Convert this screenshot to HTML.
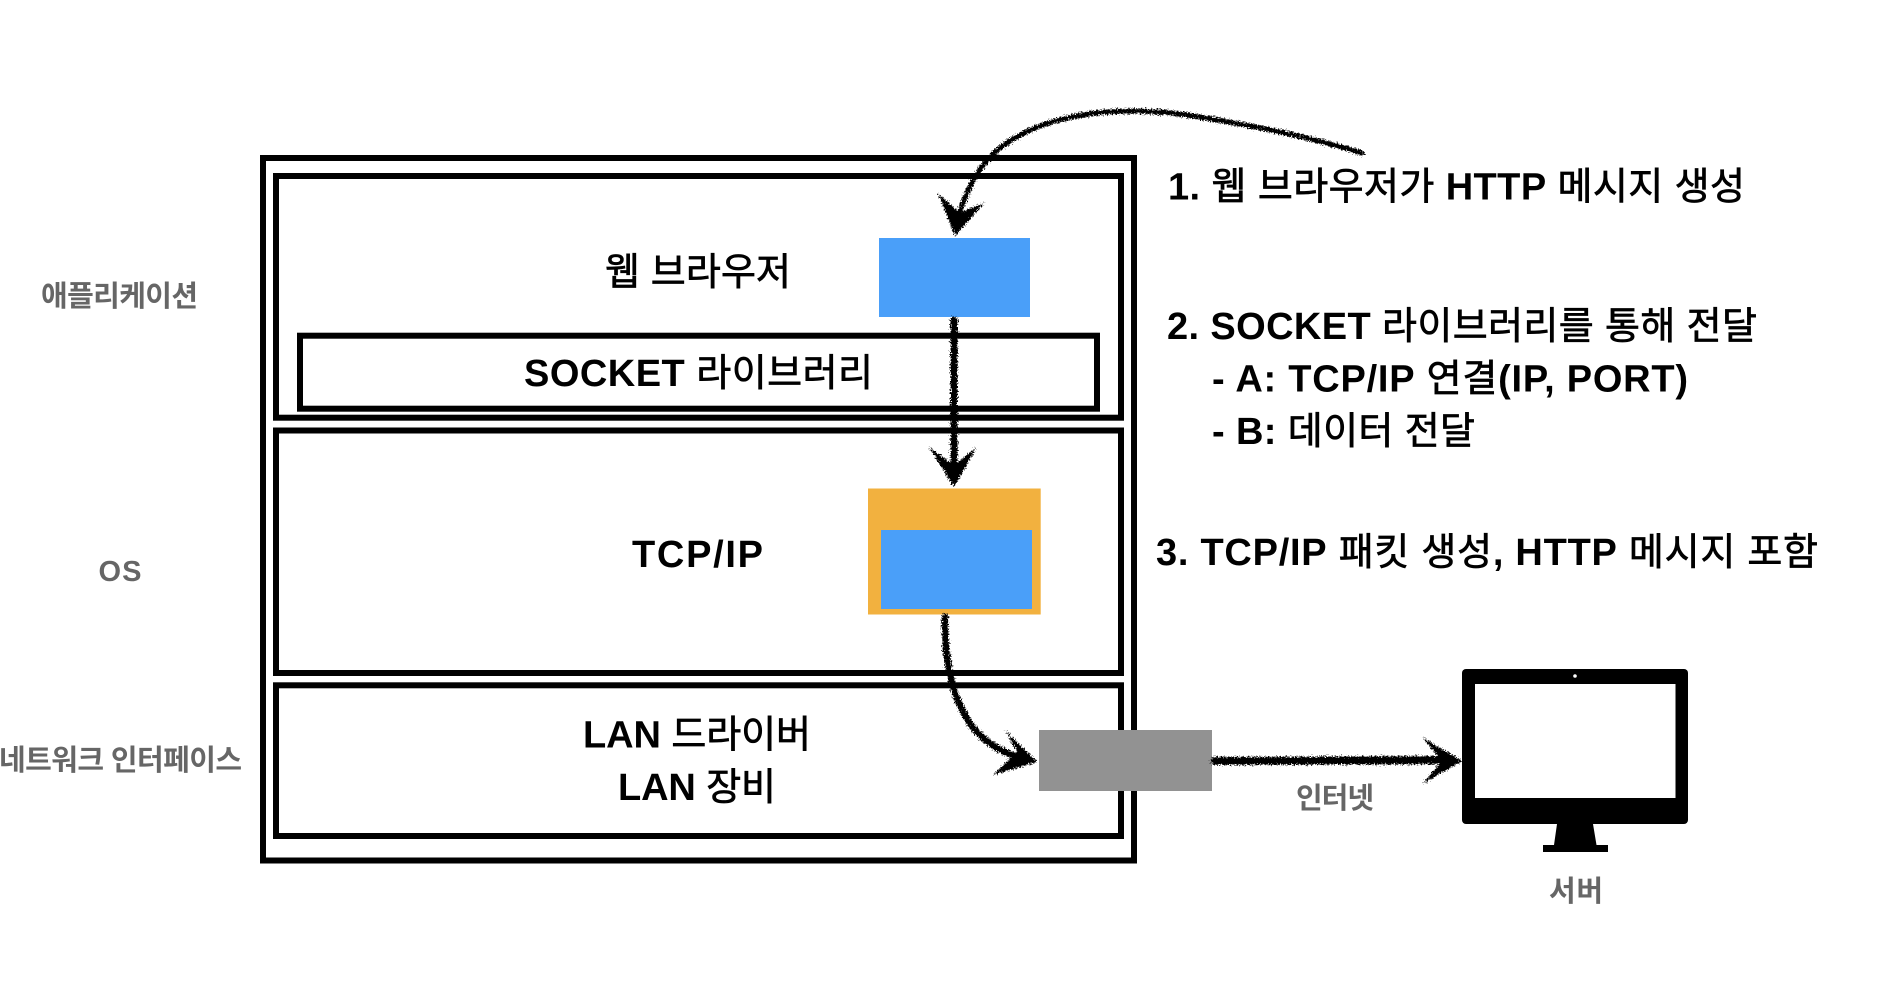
<!DOCTYPE html>
<html lang="ko"><head><meta charset="utf-8"><title>Diagram</title>
<style>
html,body{margin:0;padding:0;background:#fff}
svg{display:block}
text{font-family:"Liberation Sans","Noto Sans CJK KR",sans-serif}
.m{font-size:38px;font-weight:400;fill:#000;stroke:#000;stroke-width:.7px}
.g{font-size:29px;font-weight:700;fill:#666}
.l{font-weight:700;stroke-width:0}
</style></head><body>
<svg width="1886" height="998" viewBox="0 0 1886 998" xmlns="http://www.w3.org/2000/svg">
<defs>
<filter id="r" filterUnits="userSpaceOnUse" x="0" y="0" width="1886" height="998" color-interpolation-filters="sRGB">
<feTurbulence type="fractalNoise" baseFrequency="0.7" numOctaves="3" seed="4" result="n"/>
<feDisplacementMap in="SourceGraphic" in2="n" scale="7" xChannelSelector="R" yChannelSelector="G"/>
</filter>
</defs>
<rect width="1886" height="998" fill="#fff"/>
<g fill="none" stroke="#000" stroke-width="6">
<rect x="263" y="158" width="871" height="702.5"/>
<rect x="276" y="176" width="845" height="241.7"/>
<rect x="276" y="430.5" width="845" height="242.5"/>
<rect x="276" y="685.3" width="845" height="150.7"/>
<rect x="300" y="335.7" width="797" height="73"/>
</g>
<rect x="879" y="238" width="151" height="79" fill="#4A9FF9"/>
<rect x="868" y="488.5" width="172.7" height="126" fill="#F2B13F"/>
<rect x="881" y="530" width="151" height="79" fill="#4A9FF9"/>
<rect x="1039" y="730" width="173" height="61" fill="#929292"/>

<text class="m" x="605" y="285" textLength="186">웹 브라우저</text>
<text class="m" x="524" y="386" textLength="349"><tspan class="l">SOCKET</tspan> 라이브러리</text>
<text class="m" x="632" y="567" textLength="131"><tspan class="l">TCP/IP</tspan></text>
<text class="m" x="583" y="747.7" textLength="228"><tspan class="l">LAN</tspan> 드라이버</text>
<text class="m" x="618" y="800" textLength="158"><tspan class="l">LAN</tspan> 장비</text>
<text class="m" x="1168" y="199.5" textLength="577"><tspan class="l">1.</tspan> 웹 브라우저가 <tspan class="l">HTTP</tspan> 메시지 생성</text>
<text class="m" x="1167" y="339" textLength="590"><tspan class="l">2. SOCKET</tspan> 라이브러리를 통해 전달</text>
<text class="m" x="1212" y="391.7" textLength="476"><tspan class="l">- A: TCP/IP</tspan> 연결<tspan class="l">(IP, PORT)</tspan></text>
<text class="m" x="1212" y="444" textLength="263"><tspan class="l">- B:</tspan> 데이터 전달</text>
<text class="m" x="1156" y="565" textLength="662"><tspan class="l">3. TCP/IP</tspan> 패킷 생성<tspan class="l">, HTTP</tspan> 메시지 포함</text>
<text class="g" x="41" y="306" textLength="157">애플리케이션</text>
<text class="g" x="98.5" y="581" textLength="43">OS</text>
<text class="g" x="-1" y="770" textLength="243">네트워크 인터페이스</text>
<text class="g" x="1296" y="808" textLength="78">인터넷</text>
<text class="g" x="1549" y="901" textLength="54">서버</text>

<!-- monitor -->
<rect x="1462" y="669" width="226" height="155" rx="4" fill="#000"/>
<rect x="1475" y="684" width="200.5" height="114" fill="#fff"/>
<circle cx="1575" cy="676" r="1.8" fill="#fff"/>
<polygon points="1557,824 1593,824 1596.5,845 1608,845 1608,852 1543,852 1543,845 1554,845" fill="#000"/>

<!-- hand-drawn arrows -->
<g filter="url(#r)">
<g fill="none" stroke="#000" stroke-width="5" stroke-linecap="round">
<path d="M1362 153C1320 140 1267 128 1200 117C1160 110 1110 108 1067 118C1040 124 1012 136 992 155C975 172 965 195 957 220"/>
<path d="M954 320L954 470" stroke-width="7"/>
<path d="M945 617C944 650 950 690 965 715C975 735 995 750 1020 758" stroke-width="6.5"/>
<path d="M1215 761L1445 760" stroke-width="8"/>
</g>
<g fill="#000">
<polygon points="938,193 960,213 985,202 955,236"/>
<polygon points="929,447 954,465 977,447 954,487"/>
<polygon points="1005,730 1017,752 993,775 1037,762"/>
<polygon points="1422,737 1442,761 1422,784 1462,761"/>
</g>
</g>
</svg>
</body></html>
